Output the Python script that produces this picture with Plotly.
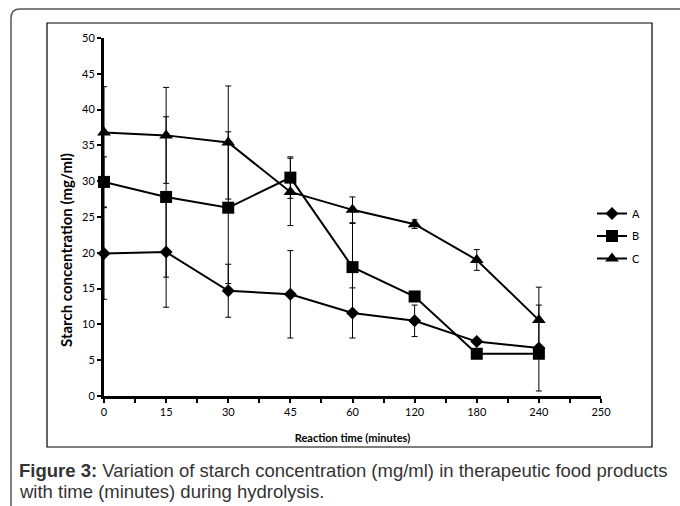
import plotly.graph_objects as go

# ---- data ----
time_labels = ["0", "15", "30", "45", "60", "120", "180", "240", "250"]
A = [19.9, 20.1, 14.7, 14.2, 11.6, 10.5, 7.6, 6.7]
A_err = [6.4, 7.7, 3.7, 6.1, 3.5, 2.2, 0.3, 6.0]
B = [29.9, 27.8, 26.3, 30.5, 18.0, 13.9, 5.9, 5.9]
B_err = [3.5, 11.2, 10.6, 2.9, 6.1, 0.5, 0.3, 0.5]
C = [36.8, 36.4, 35.4, 28.5, 26.0, 24.0, 19.0, 10.6]
C_err = [6.4, 6.7, 7.9, 4.7, 1.8, 0.6, 1.45, 4.6]
series_names = ["A", "B", "C"]

W, H = 680, 506
def px(x):
    return x / W
def py(y):
    return 1 - y / H

xpos = list(range(len(A)))

fig = go.Figure()
symbols = ["diamond", "square", "triangle-up"]
sizes = [10, 12, 12]
for name, vals, errs, sym, sz in zip(series_names, [A, B, C], [A_err, B_err, C_err], symbols, sizes):
    fig.add_trace(go.Scatter(
        x=xpos, y=vals, name=name, legendgroup=name, mode="lines+markers",
        line=dict(color="black", width=2),
        marker=dict(symbol=sym, size=sz, color="black"),
        error_y=dict(type="data", array=errs, visible=True, color="black", thickness=1, width=3),
        cliponaxis=False,
    ))

tickfont = dict(family="Lato, Carlito, Arial", size=11, color="black")
fig.update_layout(
    width=W, height=H,
    margin=dict(l=0, r=0, t=0, b=0, autoexpand=False),
    paper_bgcolor="white", plot_bgcolor="white",
    showlegend=True,
    legend=dict(x=px(592), y=py(199), xanchor="left", yanchor="top",
                font=dict(family="Lato, Carlito, Arial", size=11, color="black"),
                itemwidth=30, bgcolor="rgba(0,0,0,0)", tracegroupgap=3.5),
    xaxis=dict(domain=[px(104), px(601)], range=[0, 8], automargin=False,
               tickmode="array", tickvals=list(range(len(time_labels))), ticktext=time_labels,
               showgrid=False, zeroline=False,
               showline=True, linecolor="black", linewidth=3,
               ticks="outside", ticklen=4, tickwidth=2, tickcolor="black",
               minor=dict(dtick=0.5, ticks="outside", ticklen=4, tickwidth=2, tickcolor="black", showgrid=False),
               tickfont=tickfont,
               title=dict(text="<b>Reaction time (minutes)</b>", font=dict(family="Lato, Carlito, Arial", size=11, color="black"), standoff=18)),
    yaxis=dict(domain=[py(396), py(38)], range=[0, 50], dtick=5, automargin=False,
               showgrid=False, zeroline=False,
               showline=True, linecolor="black", linewidth=3,
               ticks="outside", ticklen=4, tickwidth=2, tickcolor="black",
               tickfont=tickfont),
)

# y-axis title (placed as in the reference, slightly below the plot-area centre)
fig.add_annotation(x=px(66), y=py(250), xref="paper", yref="paper", xanchor="center", yanchor="middle",
                   showarrow=False, textangle=-90,
                   font=dict(family="Lato, Carlito, Arial", size=15, color="black"),
                   text="<b>Starch concentration (mg/ml)</b>")

# outer frame (top and left with rounded corner) and inner chart box
outer = f"M {px(680)} {py(9)} L {px(20)} {py(9)} Q {px(11)} {py(9)} {px(11)} {py(18)} L {px(11)} {py(506)}"
fig.add_shape(type="path", path=outer, xref="paper", yref="paper", line=dict(color="#555555", width=1.5))
fig.add_shape(type="rect", xref="paper", yref="paper", x0=px(47), x1=px(652), y0=py(447), y1=py(23),
              line=dict(color="black", width=1.2))

capfont = dict(family="Liberation Sans, Arial", size=18.5, color="#333333")
fig.add_annotation(x=px(17), y=py(470), xref="paper", yref="paper", xanchor="left", yanchor="middle",
                   showarrow=False, align="left", font=capfont,
                   text="<b>Figure 3:</b> Variation of starch concentration (mg/ml) in therapeutic food products")
fig.add_annotation(x=px(17), y=py(491), xref="paper", yref="paper", xanchor="left", yanchor="middle",
                   showarrow=False, align="left", font=capfont,
                   text="with time (minutes) during hydrolysis.")

fig.write_html("out.html", config={"displayModeBar": False},
               post_script="document.body.style.margin='0';document.body.style.overflow='hidden';")
